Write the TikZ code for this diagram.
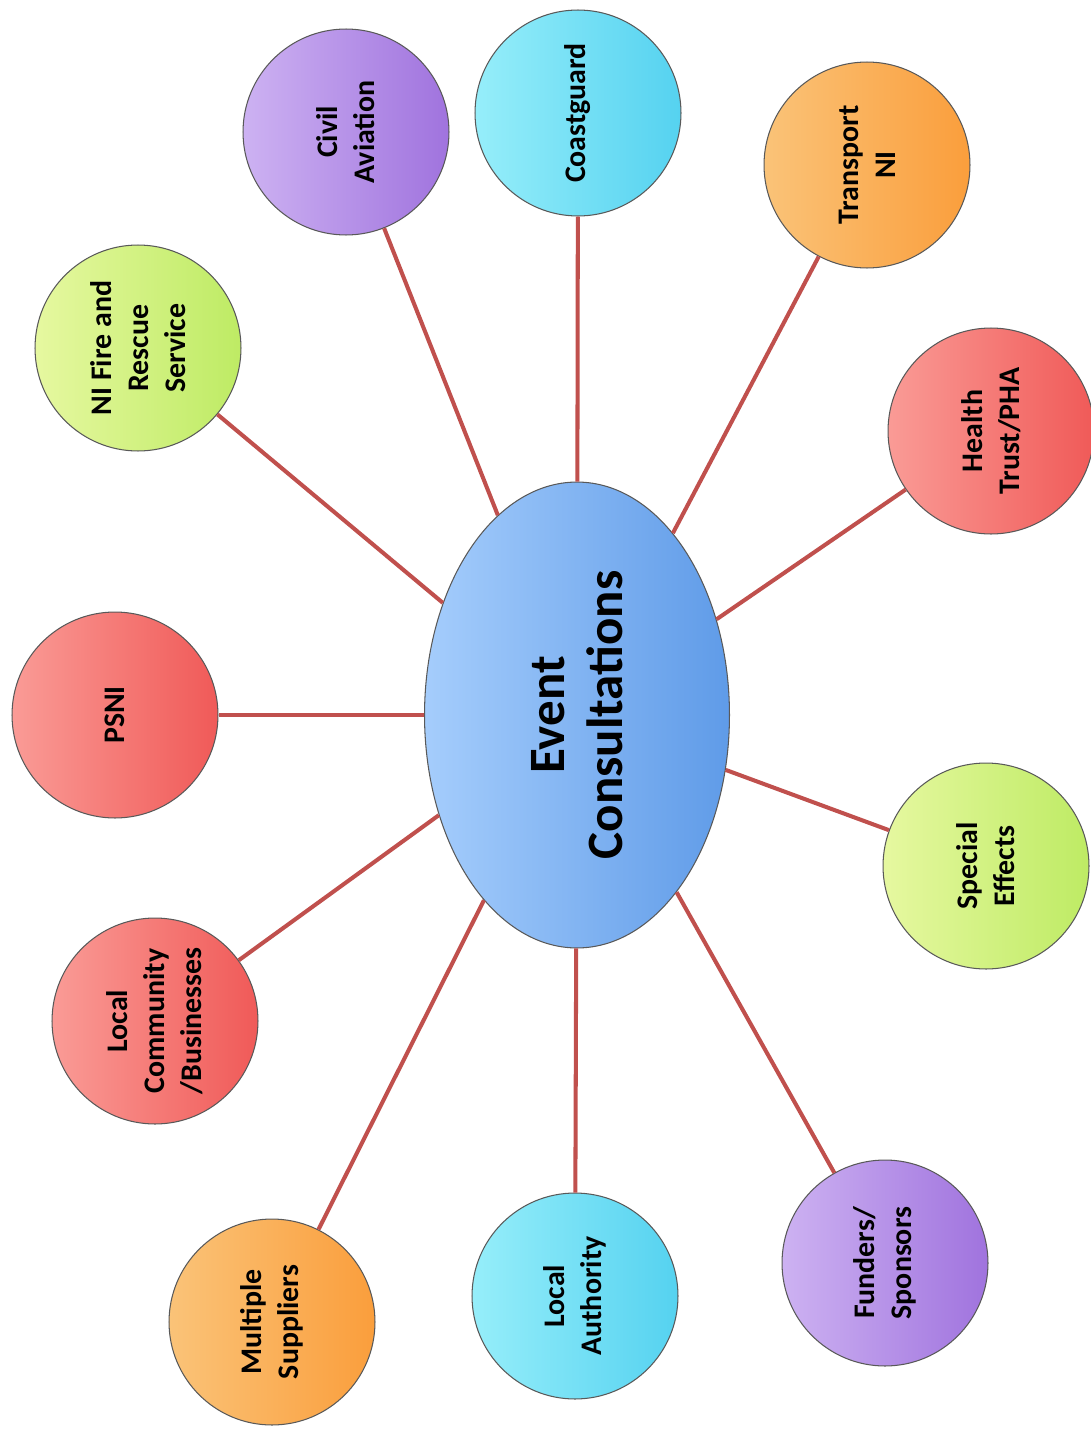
\documentclass[tikz,border=0pt]{standalone}
\usepackage{fontspec}
\setmainfont{Carlito}
\usetikzlibrary{shapes.geometric}
\definecolor{lien}{RGB}{192,80,77}
\definecolor{bleuA}{RGB}{165,205,252}
\definecolor{bleuB}{RGB}{95,155,232}
\definecolor{violA}{RGB}{205,178,242}
\definecolor{violB}{RGB}{160,115,222}
\definecolor{cyanA}{RGB}{150,238,250}
\definecolor{cyanB}{RGB}{85,210,240}
\definecolor{oranA}{RGB}{250,195,120}
\definecolor{oranB}{RGB}{250,158,60}
\definecolor{rougA}{RGB}{250,155,150}
\definecolor{rougB}{RGB}{240,90,88}
\definecolor{vertA}{RGB}{230,248,160}
\definecolor{vertB}{RGB}{190,235,100}
\tikzset{
	bulle/.style={circle, draw=gray!70!black, line width=0.6pt, minimum size=4.12cm, inner sep=0pt,
		rotate=90, align=center, font=\bfseries\fontsize{17}{21}\selectfont},
	violet/.style={bulle, left color=violA, right color=violB},
	cyan/.style={bulle, left color=cyanA, right color=cyanB},
	orange/.style={bulle, left color=oranA, right color=oranB},
	rouge/.style={bulle, left color=rougA, right color=rougB},
	vert/.style={bulle, left color=vertA, right color=vertB},
	lien/.style={draw=lien, line width=2.3pt}
}

\begin{document}
\begin{tikzpicture}[x=0.02cm,y=-0.02cm]
	\useasboundingbox (0,0) rectangle (1091,1430);
	%centre
	\node[ellipse, draw=gray!70!black, line width=0.6pt, rotate=90, minimum width=9.32cm, minimum height=6.1cm,
		left color=bleuA, right color=bleuB, align=center, font=\bfseries\fontsize{29}{33}\selectfont]
		(ec) at (577,715) {Event\\Consultations};
	
	%bulles
	\node[violet] (civ) at (346,132) {Civil\\Aviation};
	\node[cyan] (coast) at (578,113) {Coastguard};
	\node[orange] (trans) at (867,165) {Transport\\NI};
	\node[rouge] (health) at (991,431) {Health\\Trust/PHA};
	\node[vert] (spec) at (986,866) {Special\\Effects};
	\node[violet] (fund) at (885,1263) {Funders/\\Sponsors};
	\node[cyan] (la) at (575,1296) {Local\\Authority};
	\node[orange] (supp) at (272,1322) {Multiple\\Suppliers};
	\node[rouge] (comm) at (155,1021) {Local\\Community\\/Businesses};
	\node[rouge] (psni) at (115,715) {PSNI};
	\node[vert] (fire) at (138,348) {NI Fire and\\Rescue\\Service};
	
	%liens
	\foreach \b in {civ,coast,trans,health,spec,fund,la,supp,comm,psni,fire}
		\draw[lien] (ec) -- (\b);
\end{tikzpicture}
\end{document}
